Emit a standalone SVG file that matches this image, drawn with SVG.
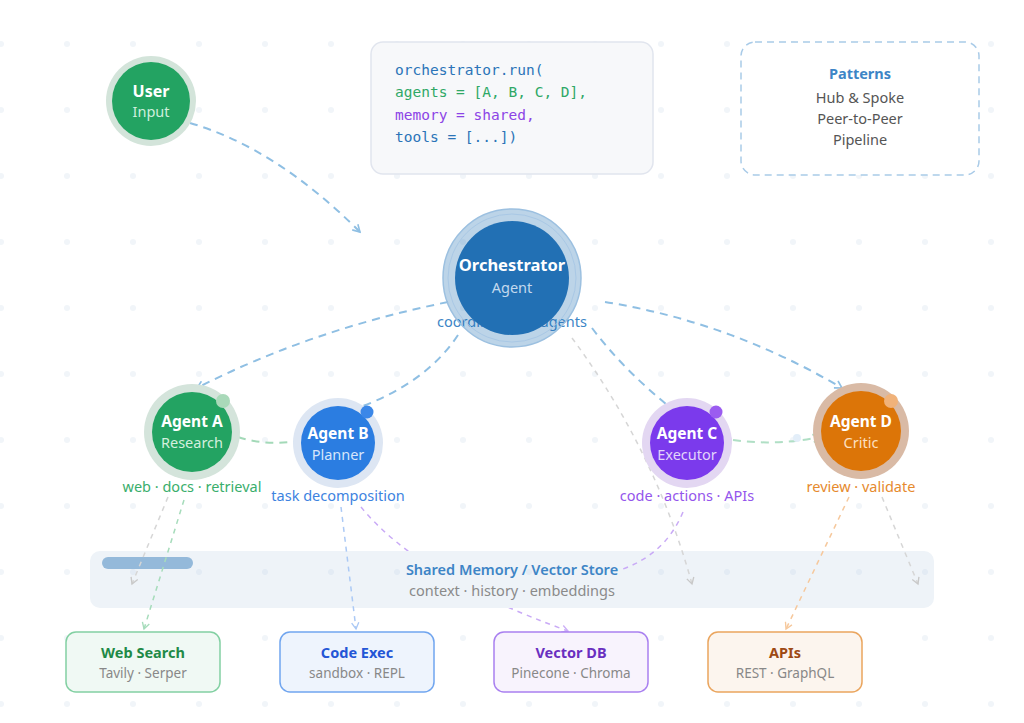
<svg xmlns="http://www.w3.org/2000/svg" width="1024" height="723" viewBox="0 0 1024 723">
<defs>
<pattern id="grid" patternUnits="userSpaceOnUse" x="-32" y="11" width="66" height="66">
<circle cx="33" cy="33" r="3" fill="#f1f5f9"/>
</pattern>
<pattern id="grid2" patternUnits="userSpaceOnUse" x="-32" y="11" width="66" height="66">
<circle cx="33" cy="33" r="3" fill="#e3ebf4"/>
</pattern>
<marker id="mBlue" viewBox="0 0 10 10" refX="8" refY="5" markerWidth="10" markerHeight="10" markerUnits="userSpaceOnUse" orient="auto"><path d="M1,1 L8,5 L1,9" fill="none" stroke="#8fbfe3" stroke-width="1.6"/></marker>
<marker id="mGreen" viewBox="0 0 10 10" refX="8" refY="5" markerWidth="10" markerHeight="10" markerUnits="userSpaceOnUse" orient="auto"><path d="M1,1 L8,5 L1,9" fill="none" stroke="#9fd6b5" stroke-width="1.6"/></marker>
<marker id="mGray" viewBox="0 0 10 10" refX="8" refY="5" markerWidth="9" markerHeight="9" markerUnits="userSpaceOnUse" orient="auto"><path d="M1,1 L8,5 L1,9" fill="none" stroke="#c8c8c8" stroke-width="1.5"/></marker>
<marker id="mLGreen" viewBox="0 0 10 10" refX="8" refY="5" markerWidth="9" markerHeight="9" markerUnits="userSpaceOnUse" orient="auto"><path d="M1,1 L8,5 L1,9" fill="none" stroke="#a6dcbb" stroke-width="1.5"/></marker>
<marker id="mLBlue" viewBox="0 0 10 10" refX="8" refY="5" markerWidth="9" markerHeight="9" markerUnits="userSpaceOnUse" orient="auto"><path d="M1,1 L8,5 L1,9" fill="none" stroke="#abc9f5" stroke-width="1.5"/></marker>
<marker id="mLPurple" viewBox="0 0 10 10" refX="8" refY="5" markerWidth="9" markerHeight="9" markerUnits="userSpaceOnUse" orient="auto"><path d="M1,1 L8,5 L1,9" fill="none" stroke="#cdb0f7" stroke-width="1.5"/></marker>
<marker id="mLOrange" viewBox="0 0 10 10" refX="8" refY="5" markerWidth="9" markerHeight="9" markerUnits="userSpaceOnUse" orient="auto"><path d="M1,1 L8,5 L1,9" fill="none" stroke="#f6c89c" stroke-width="1.5"/></marker>
</defs>
<style>
text{font-family:"Noto Sans","Open Sans","Liberation Sans",sans-serif;text-anchor:middle;dominant-baseline:central}
.t{font-weight:700;fill:#ffffff;font-size:15.5px}
.s{font-size:14.5px}
.code{font-family:"DejaVu Sans Mono","Liberation Mono",monospace;font-size:14.5px;text-anchor:start}
.main{fill:none;stroke:#8fbfe3;stroke-width:2;stroke-dasharray:8 6}
.thin{fill:none;stroke-width:1.5;stroke-dasharray:5 5}
.box{stroke-width:1.5}
.bt{font-weight:700;font-size:14.5px}
.bs{font-size:13.5px;fill:#888888}
</style>
<rect width="1024" height="723" fill="#ffffff"/>
<rect width="1024" height="723" fill="url(#grid)"/>

<g id="connectors-under">
<path class="thin" stroke="#c9aaf6" d="M361,507 Q418,577 568,631" marker-end="url(#mLPurple)"/>
</g>

<g id="memory">
<rect x="90" y="551" width="844" height="57" rx="10" fill="#eef3f8"/>
<rect x="90" y="551" width="844" height="57" rx="10" fill="url(#grid2)"/>
<rect x="102" y="557" width="91" height="12" rx="6" fill="#94b9da"/>
<text x="512" y="569" style="font-size:14.5px;font-weight:600;fill:#3d85c6">Shared Memory / Vector Store</text>
<text x="512" y="590" style="font-size:14.5px;fill:#8a8a8a">context · history · embeddings</text>
</g>

<text x="512" y="321" style="font-size:14.5px;fill:#3d85c6">coordinates all agents</text>

<g id="connectors">
<path class="main" d="M190,123 Q276,148 360,232" marker-end="url(#mBlue)"/>
<path class="main" d="M448,302 Q310,330 197,388" marker-end="url(#mBlue)"/>
<path class="main" d="M458,335 Q425,385 352,410"/>
<path class="main" d="M592,328 Q625,372 676,412"/>
<path class="main" d="M605,302 Q730,322 842,388" marker-end="url(#mBlue)"/>
<path class="thin" stroke="#d6d6d6" d="M572,338 Q655,450 692,584" marker-end="url(#mGray)"/>
<path fill="none" stroke="#a3d9b8" stroke-width="2" stroke-dasharray="8 6" d="M238,437 Q265,446 298,441"/>
<path fill="none" stroke="#b0dfc5" stroke-width="2" stroke-dasharray="8 6" d="M733,440 Q775,446 820,437" marker-end="url(#mGreen)"/>
<path class="thin" stroke="#d6d6d6" d="M168,497 L132,584" marker-end="url(#mGray)"/>
<path class="thin" stroke="#a6dcbb" d="M184,500 L144,629" marker-end="url(#mLGreen)"/>
<path class="thin" stroke="#abc9f5" d="M341,507 L356,629" marker-end="url(#mLBlue)"/>
<path class="thin" stroke="#c9aaf6" d="M683,512 Q665,555 620,570"/>
<path class="thin" stroke="#f6c89c" d="M849,497 L786,629" marker-end="url(#mLOrange)"/>
<path class="thin" stroke="#d6d6d6" d="M882,497 L918,584" marker-end="url(#mGray)"/>
<circle cx="728" cy="440" r="4" fill="#e4dbf6"/>
<circle cx="797" cy="438" r="4" fill="#e3eef9"/>
</g>

<g id="user">
<circle cx="151" cy="101" r="45" fill="#d3e4da"/>
<circle cx="151" cy="101" r="39" fill="#23a362"/>
<text class="t" x="151" y="91" style="font-size:16px">User</text>
<text class="s" x="151" y="111" style="fill:#cfeedd">Input</text>
</g>

<g id="code">
<rect x="371" y="42" width="282" height="132" rx="12" fill="#f7f8fa" stroke="#e1e5ee" stroke-width="1.5"/>
<text class="code" x="395" y="70" fill="#2b74b8">orchestrator.run(</text>
<text class="code" x="395" y="92" fill="#2fa866">agents = [A, B, C, D],</text>
<text class="code" x="395" y="115" fill="#8c44e6">memory = shared,</text>
<text class="code" x="395" y="137" fill="#2b74b8">tools = [...])</text>
</g>

<g id="patterns">
<rect x="741" y="42" width="238" height="133" rx="14" fill="#ffffff" stroke="#a9cbe8" stroke-width="1.5" stroke-dasharray="7 5"/>
<text x="860" y="73" style="font-size:14.5px;font-weight:700;fill:#3d85c6">Patterns</text>
<text x="860" y="97" style="font-size:14.5px;fill:#555555">Hub &amp; Spoke</text>
<text x="860" y="118" style="font-size:14.5px;fill:#555555">Peer-to-Peer</text>
<text x="860" y="139" style="font-size:14.5px;fill:#555555">Pipeline</text>
</g>

<g id="orchestrator">
<circle cx="512" cy="278" r="69" fill="#2270b4" fill-opacity="0.3" stroke="#9cc0e0" stroke-width="1.5"/>
<circle cx="512" cy="278" r="64" fill="none" stroke="#a9c8e5" stroke-width="1"/>
<circle cx="512" cy="278" r="57" fill="#2270b4"/>
<text class="t" x="512" y="264" style="font-size:16.5px">Orchestrator</text>
<text class="s" x="512" y="287" style="fill:#c3d9ee">Agent</text>
</g>

<g id="agentA">
<circle cx="192" cy="432" r="48" fill="#d4e4db"/>
<circle cx="192" cy="432" r="40" fill="#23a362"/>
<circle cx="223" cy="401" r="7" fill="#a9d9b9"/>
<text class="t" x="192" y="421">Agent A</text>
<text class="s" x="192" y="442" style="fill:#d3efde">Research</text>
<text x="192" y="486" style="font-size:14.5px;fill:#3aae6c">web · docs · retrieval</text>
</g>

<g id="agentB">
<circle cx="338" cy="443" r="45" fill="#dde6f3"/>
<circle cx="338" cy="443" r="37" fill="#2b7de1"/>
<circle cx="367" cy="412" r="6.5" fill="#3b87e8"/>
<text class="t" x="338" y="433">Agent B</text>
<text class="s" x="338" y="454" style="fill:#d6e6fb">Planner</text>
<text x="338" y="495" style="font-size:14.5px;fill:#3d83df">task decomposition</text>
</g>

<g id="agentC">
<circle cx="687" cy="443" r="45" fill="#e3d7f2"/>
<circle cx="687" cy="443" r="37" fill="#7b3aec"/>
<circle cx="716" cy="412" r="6.5" fill="#9b5cf0"/>
<text class="t" x="687" y="433">Agent C</text>
<text class="s" x="687" y="454" style="fill:#e2d4fb">Executor</text>
<text x="687" y="495" style="font-size:14.5px;fill:#9455ec">code · actions · APIs</text>
</g>

<g id="agentD">
<circle cx="861" cy="431" r="48" fill="#d9baa5"/>
<circle cx="861" cy="431" r="40" fill="#dc7508"/>
<circle cx="891" cy="401" r="7" fill="#f0b27a"/>
<text class="t" x="861" y="421">Agent D</text>
<text class="s" x="861" y="442" style="fill:#fde0c2">Critic</text>
<text x="861" y="486" style="font-size:14.5px;fill:#e68a2e">review · validate</text>
</g>

<g id="webSearch">
<rect class="box" x="66" y="632" width="154" height="60" rx="10" fill="#f0f9f4" stroke="#82d0a2"/>
<text class="bt" x="143" y="652" fill="#1f8a47">Web Search</text>
<text class="bs" x="143" y="673">Tavily · Serper</text>
</g>
<g id="codeExec">
<rect class="box" x="280" y="632" width="154" height="60" rx="10" fill="#eef4fd" stroke="#70a5ef"/>
<text class="bt" x="357" y="652" fill="#2456d6">Code Exec</text>
<text class="bs" x="357" y="673">sandbox · REPL</text>
</g>
<g id="vectorDB">
<rect class="box" x="494" y="632" width="154" height="60" rx="10" fill="#f8f3fd" stroke="#a980f0"/>
<text class="bt" x="571" y="652" fill="#6a2fc0">Vector DB</text>
<text class="bs" x="571" y="673">Pinecone · Chroma</text>
</g>
<g id="apis">
<rect class="box" x="708" y="632" width="154" height="60" rx="10" fill="#fcf5ee" stroke="#eaa55e"/>
<text class="bt" x="785" y="652" fill="#9e4a14">APIs</text>
<text class="bs" x="785" y="673">REST · GraphQL</text>
</g>
</svg>
